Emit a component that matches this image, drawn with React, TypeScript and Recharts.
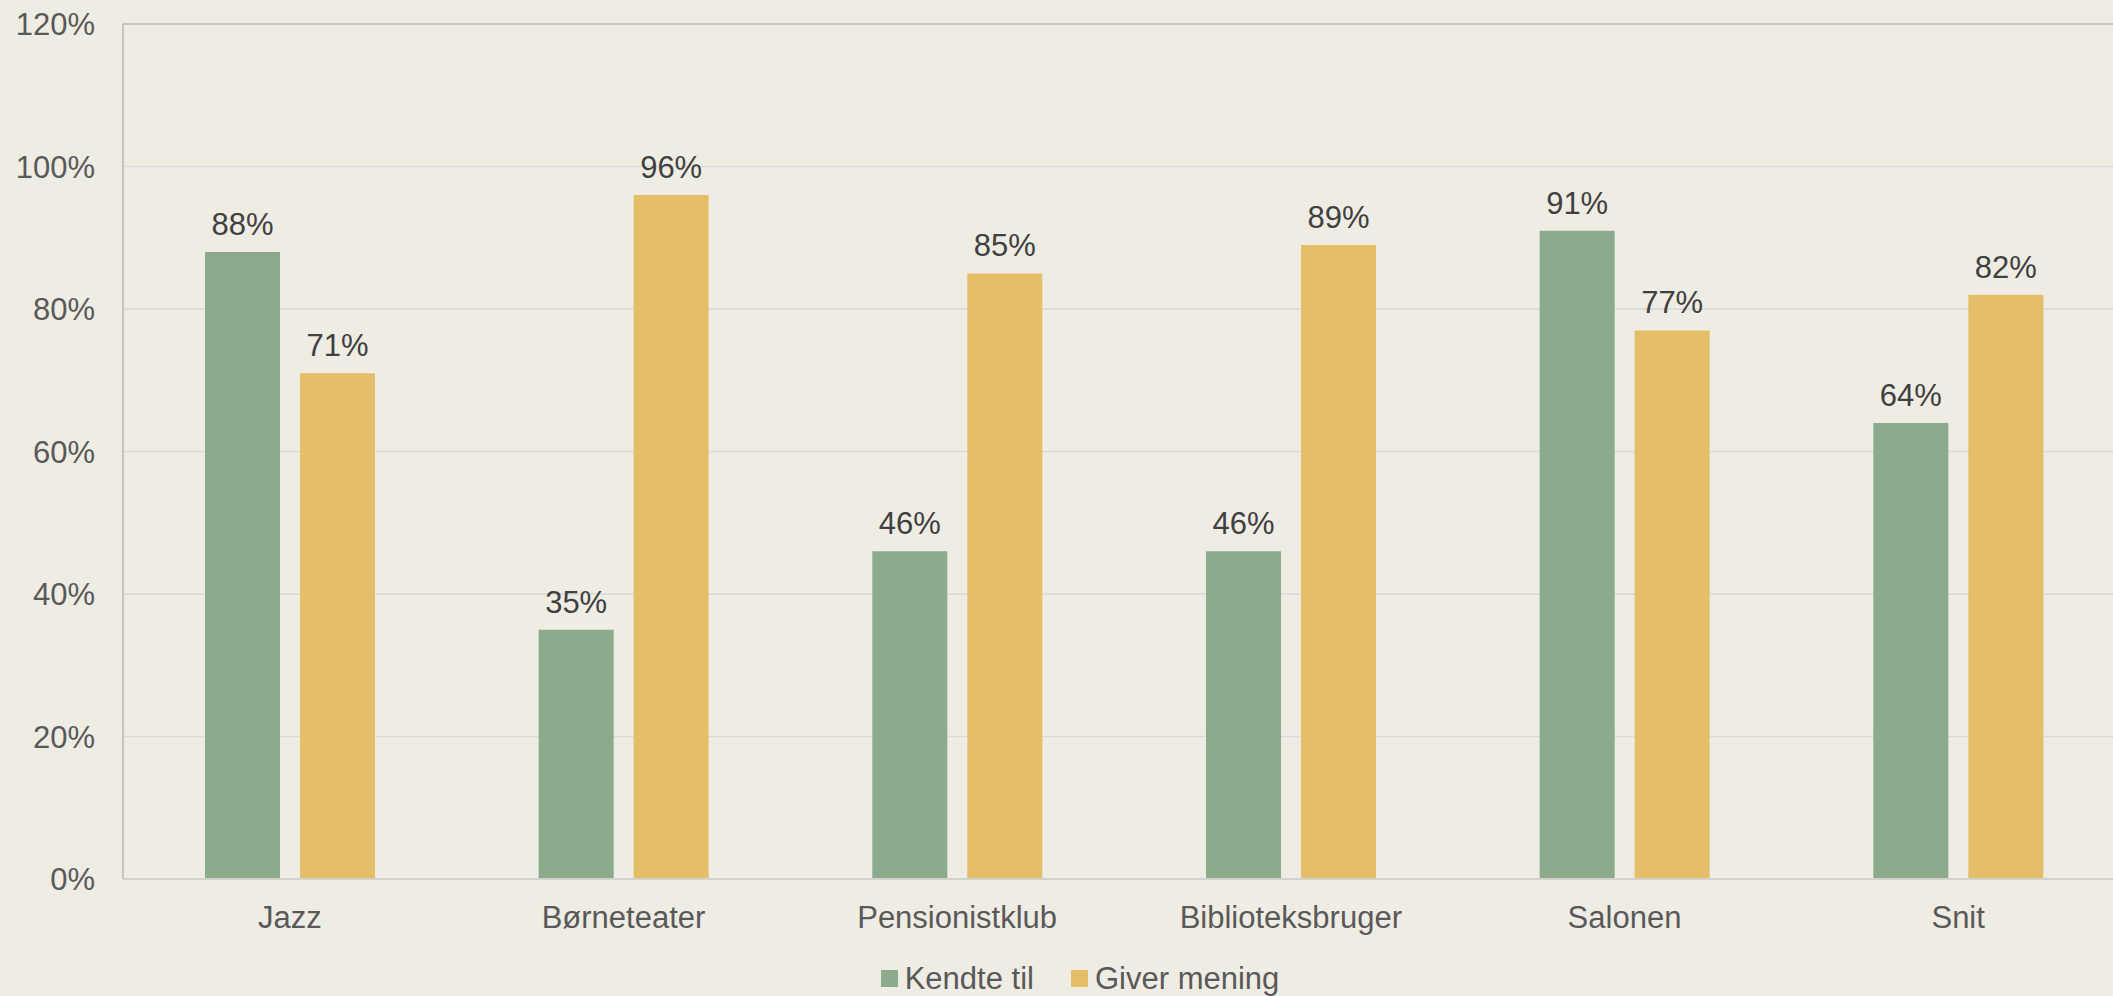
import { BarChart, Bar, XAxis, YAxis, CartesianGrid, LabelList, Legend, ReferenceLine } from "recharts";

const categories = ["Jazz", "Børneteater", "Pensionistklub", "Biblioteksbruger", "Salonen", "Snit"];
const kendteTil = [88, 35, 46, 46, 91, 64];
const giverMening = [71, 96, 85, 89, 77, 82];
const yTicks = [0, 20, 40, 60, 80, 100, 120];

const seriesNames = { kendte: "Kendte til", giver: "Giver mening" };
const GREEN = "#8CAA8C";
const YELLOW = "#E5BE69";

const data = categories.map((name, i) => ({
    name,
    kendte: kendteTil[i],
    giver: giverMening[i],
}));

const pct = (v: number) => `${v}%`;

function LegendBox() {
    const items = [
        { label: seriesNames.kendte, color: GREEN },
        { label: seriesNames.giver, color: YELLOW },
    ];
    return (
        <div style={{ display: "flex", justifyContent: "center", alignItems: "center", gap: 37, lineHeight: "31px" }}>
            {items.map((it) => (
                <div key={it.label} style={{ display: "flex", alignItems: "center", gap: 7 }}>
                    <span style={{ width: 17, height: 17, background: it.color, display: "inline-block" }} />
                    <span style={{ fontSize: 31, color: "#595959" }}>{it.label}</span>
                </div>
            ))}
        </div>
    );
}

export default function App() {
    return (
        <div
            style={{
                position: "fixed",
                left: 0,
                top: 0,
                width: 2113,
                height: 996,
                overflow: "hidden",
                background: "#EFECE4",
                fontFamily: "'Liberation Sans', Arial, sans-serif",
            }}
        >
            <BarChart
                width={2160}
                height={996}
                data={data}
                margin={{ top: 24, right: 35, bottom: 0, left: 0 }}
                barGap={20}
            >
                <CartesianGrid vertical={false} stroke="#D9D9D9" strokeWidth={1.5} />
                <XAxis
                    dataKey="name"
                    tickLine={false}
                    tickSize={0}
                    tickMargin={27}
                    axisLine={{ stroke: "#D2D2CE", strokeWidth: 2 }}
                    tick={{ fill: "#595959", fontSize: 31 }}
                    height={117}
                    interval={0}
                />
                <YAxis
                    width={123}
                    domain={[0, 120]}
                    ticks={yTicks}
                    tickFormatter={pct}
                    tickLine={false}
                    tickSize={0}
                    tickMargin={28}
                    axisLine={{ stroke: "#C4C4C0", strokeWidth: 2 }}
                    tick={{ fill: "#595959", fontSize: 31 }}
                    allowDataOverflow
                />
                <ReferenceLine y={120} stroke="#C4C4C0" strokeWidth={2} />
                <Legend
                    layout="horizontal"
                    verticalAlign="middle"
                    align="center"
                    wrapperStyle={{ top: 963, left: 0, width: 2160 }}
                    content={() => <LegendBox />}
                />
                <Bar dataKey="kendte" name={seriesNames.kendte} fill={GREEN} barSize={75} isAnimationActive={false}>
                    <LabelList dataKey="kendte" position="top" offset={17} formatter={pct} fill="#404040" fontSize={31} />
                </Bar>
                <Bar dataKey="giver" name={seriesNames.giver} fill={YELLOW} barSize={75} isAnimationActive={false}>
                    <LabelList dataKey="giver" position="top" offset={17} formatter={pct} fill="#404040" fontSize={31} />
                </Bar>
            </BarChart>
        </div>
    );
}
